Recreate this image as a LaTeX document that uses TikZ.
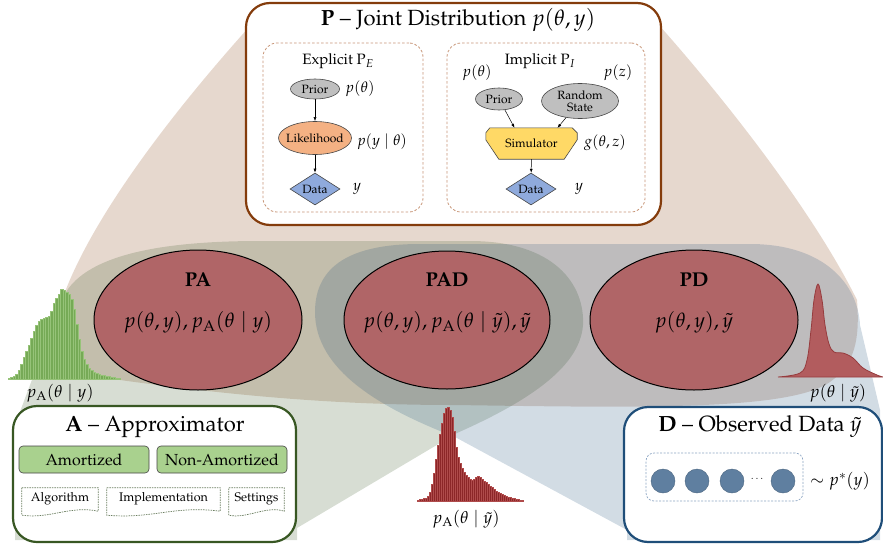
\documentclass[tikz,border=0pt]{standalone}
\usepackage[T1]{fontenc}
\usepackage{mathpazo}
\usetikzlibrary{shapes.geometric,calc,arrows.meta}
\definecolor{pbrown}{RGB}{132,60,12}
\definecolor{agreen}{RGB}{56,87,35}
\definecolor{dblue}{RGB}{31,78,121}
\definecolor{ellred}{RGB}{176,101,103}
\definecolor{priorgray}{RGB}{191,191,191}
\definecolor{likeorange}{RGB}{244,177,131}
\definecolor{datablue}{RGB}{143,170,220}
\definecolor{simyellow}{RGB}{255,217,102}
\definecolor{amgreen}{RGB}{169,209,142}
\definecolor{docgreen}{RGB}{105,125,95}
\definecolor{dashbrown}{RGB}{200,150,120}
\definecolor{dashblue}{RGB}{140,165,195}
\definecolor{dotblue}{RGB}{95,127,160}
\definecolor{histgreen}{RGB}{118,170,86}
\definecolor{histgreenl}{RGB}{150,195,120}
\definecolor{histred}{RGB}{140,38,40}
\definecolor{histredl}{RGB}{175,75,75}
\definecolor{densred}{RGB}{178,92,94}
\definecolor{densline}{RGB}{150,60,62}
\definecolor{nodeline}{RGB}{70,70,70}
\newcommand\myfs[1]{\fontsize{#1}{#1}\selectfont}
\newcommand\docshape[1]{%
  \draw[docstyle] (#1.north west) -- (#1.north east) -- ($(#1.south east)+(0,1)$)
    .. controls ($(#1.south)+(10,-5)$) and ($(#1.south)+(-10,9)$) .. ($(#1.south west)+(0,5)$) -- cycle;}
\begin{document}
\begin{tikzpicture}[x=1pt,y=-1pt,
  bigbox/.style={draw, line width=2.2pt, rounded corners=24pt, fill=white, inner sep=0pt},
  innerdash/.style={draw=dashbrown, dash pattern=on 2.5pt off 2pt, line width=0.8pt, rounded corners=14pt, inner sep=0pt},
  gnode/.style={draw=nodeline, line width=0.6pt, inner sep=0pt},
  nlabel/.style={font=\myfs{12}},
  mlabel/.style={font=\myfs{15}},
  hlabel/.style={font=\myfs{17}},
  ttl/.style={font=\myfs{22}},
  arr/.style={-{Latex[length=4pt,width=3pt]}, line width=0.5pt},
  bigell/.style={ellipse, draw=black, line width=1pt, fill=ellred, minimum width=208pt, minimum height=140pt, inner sep=0pt},
  elltitle/.style={font=\myfs{20}\bfseries},
  ellmath/.style={font=\myfs{20.5}},
  amobox/.style={draw=nodeline, line width=0.6pt, fill=amgreen, rounded corners=4pt, minimum width=130pt, minimum height=27pt, font=\myfs{16}, inner sep=0pt},
  docnode/.style={minimum height=22pt, inner sep=0pt, font=\myfs{12.5}},
  docstyle/.style={draw=docgreen, dash pattern=on 1.5pt off 1pt, line width=0.7pt},
  dot/.style={circle, fill=dotblue, draw=dotblue!80!black, line width=0.4pt, minimum size=24pt, inner sep=0pt}
]
\useasboundingbox (0,0) rectangle (883,546);

% ---- fans ----
\fill[pbrown, fill opacity=0.2] (250,26) .. controls (170,115) and (90,220) .. (62,300)
  .. controls (56,345) and (75,372) .. (120,380) .. controls (250,398) and (350,405) .. (455,405)
  .. controls (650,408) and (790,410) .. (830,382) .. controls (855,364) and (860,340) .. (857,300)
  .. controls (815,215) and (730,105) .. (658,24) -- cycle;
\fill[agreen, fill opacity=0.2] (15,425) -- (60,305) .. controls (75,255) and (160,241) .. (260,241)
  -- (470,241) .. controls (555,241) and (585,285) .. (583,325) .. controls (580,370) and (520,405) .. (457,433)
  -- (297,528) -- (297,540) -- (15,540) -- cycle;
\fill[dblue, fill opacity=0.2] (627,530) -- (455,437) .. controls (380,408) and (315,370) .. (315,312)
  .. controls (315,265) and (352,244) .. (420,244) -- (750,244) .. controls (825,244) and (858,285) .. (860,325)
  -- (880,410) -- (880,540) -- (627,540) -- cycle;

% ---- P box ----
\node[bigbox, draw=pbrown, minimum width=415pt, minimum height=222pt] (pbox) at (453.5,114) {};
\node[ttl] (ptitle) at (458,20) {\textbf{P} -- Joint Distribution $p(\theta,y)$};
\node[innerdash, minimum width=160pt, minimum height=169pt] (ebox) at (343,127.5) {};
\node[innerdash, minimum width=198pt, minimum height=169pt] (ibox) at (546,127.5) {};
\node[font=\myfs{15}] (etitle) at (338,61) {Explicit P$_E$};
\node[font=\myfs{15}] (ititle) at (540,61) {Implicit P$_I$};

\node[gnode, ellipse, fill=priorgray, minimum width=49pt, minimum height=20pt,
  label={[nlabel]center:Prior}] (eprior) at (315,89) {};
\node[gnode, ellipse, fill=likeorange, minimum width=73pt, minimum height=33pt,
  label={[nlabel]center:Likelihood}] (elike) at (315,138) {};
\node[gnode, diamond, fill=datablue, minimum width=50pt, minimum height=32pt,
  label={[nlabel]center:Data}] (edata) at (315,189) {};
\draw[arr] (eprior) -- (elike);
\draw[arr] (elike) -- (edata);
\node[mlabel] (lpt1) at (360,89) {$p(\theta)$};
\node[mlabel] (lpyt) at (382,142) {$p(y\mid\theta)$};
\node[mlabel] (ly1) at (357,189) {$y$};

\node[gnode, ellipse, fill=priorgray, minimum width=47pt, minimum height=22pt,
  label={[nlabel]center:Prior}] (iprior) at (499,99) {};
\node[gnode, ellipse, fill=priorgray, minimum width=77pt, minimum height=35pt,
  label={[nlabel, align=center]center:{Random\\State}}] (irand) at (580,101) {};
\node[minimum width=91pt, minimum height=31pt, inner sep=0pt] (sim) at (531.5,143.5) {};
\filldraw[fill=simyellow, draw=nodeline, line width=0.6pt]
  ($(sim.north west)+(4,0)$) -- ($(sim.north east)+(-5,0)$) -- ($(sim.north east)+(0,5)$)
  -- ($(sim.north east)+(0,12)$) -- ($(sim.south east)+(-13,0)$) -- ($(sim.south west)+(13,0)$)
  -- ($(sim.north west)+(0,12)$) -- ($(sim.north west)+(0,5)$) -- cycle;
\node[nlabel] (simtext) at (sim) {Simulator};
\node[gnode, diamond, fill=datablue, minimum width=50pt, minimum height=32pt,
  label={[nlabel]center:Data}] (idata) at (531,189) {};
\draw[arr] (iprior) -- ([xshift=-17pt]sim.north);
\draw[arr] (irand) -- ([xshift=26pt]sim.north);
\draw[arr] (sim) -- (idata);
\node[mlabel] (lpt2) at (477,73) {$p(\theta)$};
\node[mlabel] (lpz) at (618,73) {$p(z)$};
\node[mlabel] (lg) at (605,143) {$g(\theta,z)$};
\node[mlabel] (ly2) at (579,189) {$y$};

% ---- ellipses ----
\node[bigell] (pa) at (198,320) {};
\node[bigell, minimum width=206pt, minimum height=138pt] (pad) at (447,320) {};
\node[bigell] (pd) at (694,320) {};
\node[elltitle] (pat) at ($(pa)+(0,-40)$) {PA};
\node[elltitle] (padt) at ($(pad)+(0,-40)$) {PAD};
\node[elltitle] (pdt) at ($(pd)+(0,-40)$) {PD};
\node[ellmath] (pam) at ($(pa)+(0,2)$) {$p(\theta,y),p_{\mathrm{A}}(\theta\mid y)$};
\node[ellmath] (padm) at ($(pad)+(0,2)$) {$p(\theta,y),p_{\mathrm{A}}(\theta\mid \tilde y),\tilde y$};
\node[ellmath] (pdm) at ($(pd)+(0,2)$) {$p(\theta,y),\tilde y$};

% ---- histograms ----
\foreach \h [count=\i from 0] in {1,2,3,5,9,15,22,28,34,41,48,54,58,60,61,62,63,68,76,81,85,90,89,87,85,80,70,55,40,28,20,15,11,9,7,6,5,4,3.5,3,2.5,2,1.5,1,0.8}
  \filldraw[fill=histgreen, draw=histgreenl, line width=0.3pt] ({8+2.5*\i},379) rectangle ++(2.5,-\h);
\node[hlabel] (lha) at (60,393) {$p_{\mathrm{A}}(\theta\mid y)$};

\foreach \h [count=\i from 0] in {1,1.5,2,2.5,3,5,9,17,28,42,56,67,78,88,93,94,91,84,70,54,44,38,33,29,26,24,22,21,22,24,25,24,22,20,19,17,15,14,12,10,9,8,7,6,5,4,3.5,3,2.5,2,1.5,1,0.8}
  \filldraw[fill=histred, draw=histredl, line width=0.25pt] ({417+2*\i},501) rectangle ++(2,-\h);
\node[hlabel] (lhpad) at (466,519) {$p_{\mathrm{A}}(\theta\mid \tilde y)$};

\filldraw[fill=densred, draw=densline, line width=0.8pt] plot[smooth, tension=0.6] coordinates
  {(778,377) (800,373) (807,360) (811,330) (814,300) (818,284) (822,300) (825,325) (829,344) (834,352) (843,353) (853,358) (863,368) (877,375) (883,377)} -- cycle;
\node[hlabel] (lhpd) at (838,393) {$p(\theta\mid \tilde y)$};

% ---- A box ----
\node[bigbox, draw=agreen, minimum width=283pt, minimum height=136pt] (abox) at (154.5,474) {};
\node[ttl] (atitle) at (155,427) {\textbf{A} -- Approximator};
\node[amobox] (amort) at (84,459.5) {Amortized};
\node[amobox] (namort) at (222,459.5) {Non-Amortized};
\node[docnode, minimum width=76pt] (alg) at (60,499) {Algorithm};
\node[docnode, minimum width=113pt] (impl) at (163.5,499) {Implementation};
\node[docnode, minimum width=55pt] (sett) at (256.5,499) {Settings};
\docshape{alg}
\docshape{impl}
\docshape{sett}

% ---- D box ----
\node[bigbox, draw=dblue, minimum width=258pt, minimum height=135pt] (dbox) at (753,474.5) {};
\node[ttl] (dtitle) at (760,427) {\textbf{D} -- Observed Data $\tilde y$};
\node[draw=dashblue, dash pattern=on 2pt off 1.5pt, line width=0.7pt, rounded corners=8pt,
  minimum width=157pt, minimum height=48pt, inner sep=0pt] (dset) at (724.5,477) {};
\node[dot] (c1) at (663,481) {};
\node[dot] (c2) at (697,481) {};
\node[dot] (c3) at (732,481) {};
\node[font=\myfs{10}] (cdots) at (757,479) {$\cdots$};
\node[dot] (c4) at (783,481) {};
\node[hlabel] (pstar) at (840,481) {$\sim p^{*}(y)$};
\end{tikzpicture}
\end{document}
